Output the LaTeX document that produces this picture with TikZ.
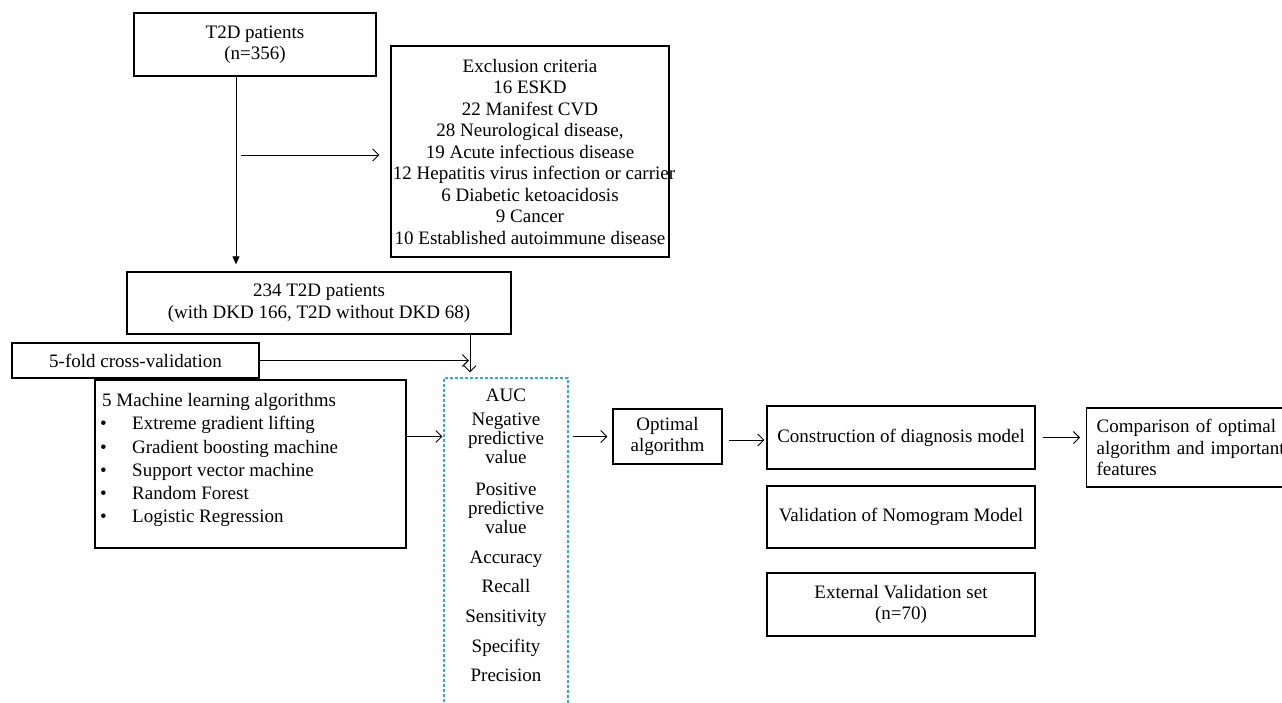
\documentclass[tikz,border=0pt]{standalone}
\usepackage{fontspec}
\setmainfont{Liberation Serif}
\usetikzlibrary{arrows.meta}
\definecolor{dashc}{RGB}{40,170,235}
\begin{document}
\begin{tikzpicture}[x=1pt,y=-1pt,
  txt/.style={inner sep=0pt, font=\fontsize{19}{21.5}\selectfont},
  box/.style={draw, line width=1.3pt, align=center, inner sep=0pt, font=\fontsize{19}{21.5}\selectfont},
  arr/.style={line width=0.9pt, -{Straight Barb[length=6pt,width=12pt,line width=0.9pt]}},
  farr/.style={line width=0.9pt, -{Triangle[length=8pt,width=7pt]}},
  dbox/.style={draw=dashc, line width=1.2pt, dash pattern=on 3pt off 2pt, inner sep=0pt},
]
\useasboundingbox (0,0) rectangle (1282,702);
\fill[white] (0,0) rectangle (1282,702);

% boxes
\node[box, minimum width=242pt, minimum height=63pt] (t2d) at (255,44.5) {T2D patients\\(n=356)};
\node[box, minimum width=278pt, minimum height=211pt] (excl) at (530,151.5) {Exclusion criteria\\16 ESKD\\22 Manifest CVD\\28 Neurological disease,\\19 Acute infectious disease\\\makebox[0pt][c]{\hspace{8pt}12 Hepatitis virus infection or carrier}\\6 Diabetic ketoacidosis\\9 Cancer\\10 Established autoimmune disease};
\node[box, minimum width=384pt, minimum height=62pt] (b234) at (319,303) {234 T2D patients\\(with DKD 166, T2D without DKD 68)};
\node[box, minimum width=247pt, minimum height=35pt] (fold) at (135.5,360.5) {5-fold cross-validation};
\node[box, minimum width=311pt, minimum height=168pt] (ml) at (250.5,464) {};
\node[dbox, minimum width=124pt, minimum height=336pt] (dash) at (506,546) {};
\node[box, minimum width=109pt, minimum height=55pt] (opt) at (667.5,436.5) {Optimal\\algorithm};
\node[box, minimum width=268pt, minimum height=63pt] (cons) at (901,437.5) {Construction of diagnosis model};
\node[box, align=left, anchor=west, text width=200pt, inner xsep=10pt, minimum height=79pt] (comp) at (1086,447.5) {Comparison of optimal\\algorithm and important\\features};
\node[box, minimum width=268pt, minimum height=62pt] (valn) at (901,517) {Validation of Nomogram Model};
\node[box, minimum width=268pt, minimum height=63pt] (ext) at (901,604.5) {External Validation set\\(n=70)};

% ML list
\node[txt, anchor=base west] (ml0) at (102,406) {5 Machine learning algorithms};
\node[txt, anchor=base west] (ml1) at (100,429) {\makebox[32pt][l]{\textbullet}Extreme gradient lifting};
\node[txt, anchor=base west] (ml2) at (100,453) {\makebox[32pt][l]{\textbullet}Gradient boosting machine};
\node[txt, anchor=base west] (ml3) at (100,476.5) {\makebox[32pt][l]{\textbullet}Support vector machine};
\node[txt, anchor=base west] (ml4) at (100,499.5) {\makebox[32pt][l]{\textbullet}Random Forest};
\node[txt, anchor=base west] (ml5) at (100,522) {\makebox[32pt][l]{\textbullet}Logistic Regression};

% metrics
\node[txt, anchor=base] (m1) at (506,401) {AUC};
\node[txt, anchor=base] (m2) at (506,425) {Negative};
\node[txt, anchor=base] (m3) at (506,444) {predictive};
\node[txt, anchor=base] (m4) at (506,463) {value};
\node[txt, anchor=base] (m5) at (506,495) {Positive};
\node[txt, anchor=base] (m6) at (506,514) {predictive};
\node[txt, anchor=base] (m7) at (506,533) {value};
\node[txt, anchor=base] (m8) at (506,563) {Accuracy};
\node[txt, anchor=base] (m9) at (506,592) {Recall};
\node[txt, anchor=base] (m10) at (506,622) {Sensitivity};
\node[txt, anchor=base] (m11) at (506,652) {Specifity};
\node[txt, anchor=base] (m12) at (506,681) {Precision};

% connectors
\coordinate (vx) at (236,0);
\coordinate (hs) at (241,155);
\coordinate (vx2) at (470,0);
\draw[farr] (t2d.south -| vx) -- (b234.north -| vx) [shorten >=7pt];
\draw[arr, shorten >=11pt] (hs) -- (excl.west |- hs);
\draw[arr, shorten >=5pt] (b234.south -| vx2) -- (dash.north -| vx2);
\draw[arr, shorten >=1pt] (fold.east) -- (fold.east -| vx2);
\draw[arr, shorten >=1pt] (ml.east |- opt) -- (dash.west |- opt);
\draw[arr, shorten <=4pt, shorten >=5pt] (dash.east |- opt) -- (opt.west);
\draw[arr, shorten <=6pt, shorten >=2pt] (opt.east |- 0,440) -- (cons.west |- 0,440);
\draw[arr, shorten <=7pt, shorten >=6pt] (cons.east) -- (cons.east -| comp.west);
\end{tikzpicture}
\end{document}
